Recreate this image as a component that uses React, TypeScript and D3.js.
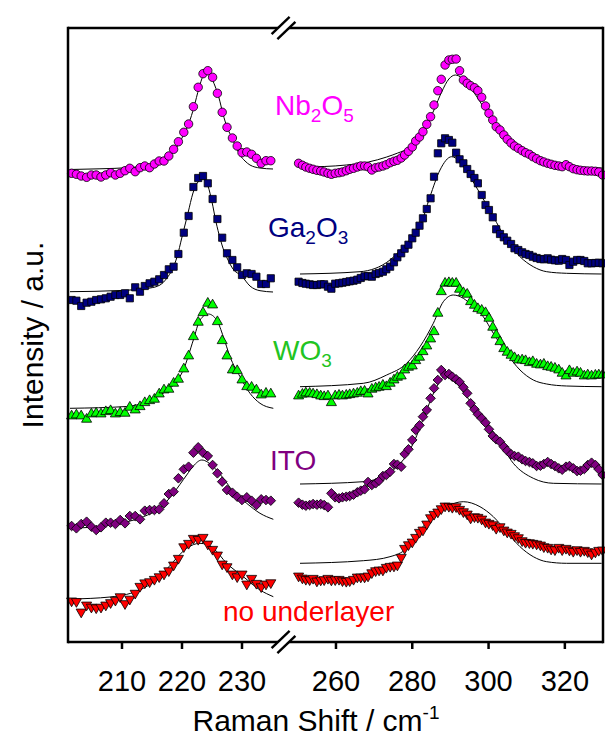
import React from "react";
import * as d3 from "d3";

// Raman shift sampling (cm^-1)
const leftShift = [201.6, 202.4, 203.2, 204.1, 204.9, 205.7, 206.5, 207.3, 208.1, 208.9, 209.7, 210.5, 211.3, 212.2, 213.0, 213.8, 214.6, 215.4, 216.2, 217.0, 217.8, 218.6, 219.4, 220.3, 221.1, 221.9, 222.7, 223.5, 224.3, 225.1, 225.9, 226.7, 227.5, 228.4, 229.2, 230.0, 230.8, 231.6, 232.4, 233.2, 234.0, 234.8];
const rightShift = [250.2, 251.2, 252.1, 253.1, 254.0, 255.0, 256.0, 256.9, 257.9, 258.8, 259.8, 260.8, 261.7, 262.7, 263.6, 264.6, 265.6, 266.5, 267.5, 268.4, 269.4, 270.4, 271.3, 272.3, 273.2, 274.2, 275.2, 276.1, 277.1, 278.0, 279.0, 280.0, 280.9, 281.9, 282.8, 283.8, 284.8, 285.7, 286.7, 287.6, 288.6, 289.6, 290.5, 291.5, 292.4, 293.4, 294.4, 295.3, 296.3, 297.2, 298.2, 299.2, 300.1, 301.1, 302.0, 303.0, 304.0, 304.9, 305.9, 306.8, 307.8, 308.8, 309.7, 310.7, 311.6, 312.6, 313.6, 314.5, 315.5, 316.4, 317.4, 318.4, 319.3, 320.3, 321.2, 322.2, 323.2, 324.1, 325.1, 326.0, 327.0, 328.0, 328.9, 329.9];

const leftTicks = [210, 220, 230];
const rightTicks = [260, 280, 300, 320];

// stacking offsets (a.u.)
const offsets = [472, 350, 233, 112, 42];

// Nb2O5
const nbLeft = [-3.3, -4.3, -6, -7.3, -5, -5, -7, -5, -2.7, -5, -3.3, -0.7, 1.7, -1.7, 2.3, 4, 2.3, 6, 9, 9, 14, 20.7, 28.3, 37.7, 46, 63.3, 82.7, 96.3, 99.3, 92.7, 76.7, 57.7, 42.7, 32, 24, 17.3, 18, 15.7, 11.7, 6.7, 9.3, 9.3];
const nbRight = [6.7, 4.7, 3, 1.7, 0.7, -0.3, -1, -2, -3.3, -4.3, -3.3, -2.7, -2, -0.7, 0.7, 1.7, 3, 4, 4, 3.3, 0, 2.3, 3, 4, 5.3, 7.3, 8.7, 9.7, 12, 15, 18.7, 23, 29, 33, 38.3, 45.7, 53.3, 65, 79.3, 90.7, 105, 110, 110.7, 111, 99.3, 90, 86.7, 84.3, 82.3, 79.3, 72.7, 64, 56.7, 50, 43.3, 40, 35, 30.7, 27, 24, 21.7, 19.3, 17.3, 15.7, 13.3, 11.3, 9.3, 8, 6.7, 5.7, 4.7, 4, 3.3, 5.3, 3.3, 1.3, 0.3, -0.3, -0.7, -1, -1, -1.3, -2, -5];
const nbFitL = [[201.33, 0.5], [206.33, 1.2], [211.33, 2.5], [214.67, 5], [217.17, 10], [218.83, 20], [220.17, 34], [221.17, 47], [222, 63], [222.83, 82], [223.5, 94], [224.17, 98], [224.83, 93], [225.5, 84], [226.17, 72], [226.83, 56], [227.5, 43], [228.17, 34], [229, 23], [229.67, 15], [230.5, 9], [231.33, 5], [233, 2], [235.17, 1]];
const nbFitR = [[250.2, 3], [256.9, 3.5], [262.7, 5], [268.5, 8], [273.3, 13], [276.2, 17], [279.1, 22], [281.9, 33], [283.9, 45], [285.8, 61], [287.7, 78], [289.6, 91], [291.3, 95], [293.0, 92], [294.9, 84], [296.8, 74], [298.8, 62], [300.7, 50], [302.6, 40], [305.0, 30], [307.9, 21], [310.8, 14], [314.6, 8], [319.4, 4], [324.2, 2.5], [330.0, 2]];

// Ga2O3
const gaLeft = [-8, -8.7, -14, -10.7, -9.7, -8, -7.3, -6.3, -4.7, -3, -3, -1.3, -6.3, 4.7, 0.3, 6, 8.7, 10.3, 12.7, 17, 22.7, 25.3, 38, 59.3, 76, 105, 114, 116, 108.7, 93, 73, 54.3, 38.7, 32, 24.7, 17, 18.7, 18, 15.3, 8, 8, 13.7];
const gaRight = [10.3, 9, 8.3, 7.7, 7, 7, 7.7, 7.7, 5.3, 3.3, 8.3, 8.7, 9.3, 10, 10.7, 11.3, 12.3, 14, 15.7, 16, 15.3, 18, 19, 20.3, 22.7, 25.3, 29.7, 34.7, 38.7, 43.3, 47.3, 53.7, 59.3, 66.3, 73.7, 83, 93.7, 115.3, 138.7, 148.7, 153.7, 152, 149.3, 139.3, 132.7, 128.7, 123, 118, 114, 108.7, 97, 87, 82, 74.7, 62.7, 58, 54.7, 51.3, 48, 43.7, 42, 39.7, 38, 37, 35.3, 34, 33, 32.7, 33.7, 32.3, 31.7, 31.3, 33, 32, 27, 30.3, 32, 32, 31, 28.7, 28.7, 29, 29.3, 28.7];
const gaFitL = [[201.33, 0.3], [209.67, 1.5], [214.67, 4], [216.33, 7], [217.5, 14], [218.33, 22], [219.17, 35], [220, 55], [221, 79], [221.83, 99], [222.67, 110], [223.5, 113], [224.33, 106], [225, 90], [225.67, 70], [226.33, 54], [227, 41], [227.67, 32], [228.5, 23], [229.95, 16], [231.33, 6], [233, 1.3], [235.17, 0]];
const gaFitR = [[250.57, 18], [266.3, 20.3], [274.16, 32], [278.53, 48.7], [282.02, 65.3], [284.64, 95.3], [287.27, 122], [290.32, 135.3], [292.51, 130.3], [295.13, 115.3], [297.75, 98.7], [301.25, 75.3], [304.74, 52], [308.24, 35.3], [311.73, 25.3], [315.23, 20.3], [320.47, 18.7], [329.64, 18]];

// WO3
const woLeft = [-7, -6, -7, -10.3, -5, -4.3, -5, -2.7, -1.7, -5, -3.7, -4.3, 1.7, -1, 2.3, 6.3, 8.3, 9.7, 15, 19, 19.7, 25.7, 29.7, 40, 53, 72.3, 86.7, 96.3, 105.7, 104, 87.3, 68.3, 53, 39, 38.3, 29, 22.3, 21.7, 19, 14, 15.7, 15];
const woRight = [13, 14.7, 16, 15.7, 15, 14.3, 13, 12.3, 13, 6.3, 13, 13.7, 13, 13.7, 14.3, 15, 15.7, 17.3, 17.7, 15, 19.7, 21, 21.7, 23.7, 22.3, 25.7, 29, 31.7, 33, 39, 41.7, 43, 48.3, 51.7, 57.3, 63, 70, 77.3, 95.7, 117.3, 125.7, 126.3, 125.7, 125.7, 119.7, 116.3, 114.7, 107.3, 103.7, 100.3, 98.7, 96.3, 90.7, 81.7, 74, 67.3, 60.3, 56.7, 53.7, 51.3, 49, 49, 48.3, 46.3, 47.3, 44.7, 44, 44.7, 42.3, 41.7, 40.7, 39, 35.7, 33, 38.3, 35.7, 37, 35.7, 33, 34, 33, 33.7, 34, 34];
const woFitL = [[201.33, 0.7], [210.78, 2.5], [213.56, 6], [215.78, 12.3], [218.56, 24], [220.22, 39], [221.89, 69], [223, 89], [224.39, 95], [225.78, 89], [226.89, 72.3], [228, 52.3], [229.67, 32.3], [231.33, 15.7], [233, 5.7], [235.22, 0.7]];
const woFitR = [[250.57, 22.3], [267.17, 25.7], [273.29, 34], [278.53, 45.7], [282.02, 62.3], [285.52, 85.7], [288.14, 107.3], [290.76, 114], [293.38, 110.7], [296.0, 102.3], [298.62, 92.3], [301.25, 75.7], [304.74, 55.7], [308.24, 39], [311.73, 29], [315.23, 25], [320.47, 23], [329.64, 22.3]];

// ITO
const itoLeft = [4, 1.7, 6, 8.3, 3.3, 0, 2.7, 7.3, 7.3, 6, 10, 6.7, 14, 14, 10.7, 19.3, 20, 20, 20.7, 26.7, 36, 38.3, 51.7, 60.7, 63.3, 77.3, 82.7, 77.3, 74, 65, 56.7, 48.3, 40, 37.3, 33.3, 30, 32.7, 29.3, 25, 30.7, 30, 29.3];
const itoRight = [27.3, 25.3, 24.3, 25, 26, 25.3, 26, 25, 22.7, 36.7, 32.7, 31.7, 32.7, 33.3, 34, 35.3, 37.7, 39.3, 40.7, 48, 45, 46.7, 49.3, 54, 55, 58.3, 66, 65.3, 63.3, 76, 80.7, 90, 100, 104.7, 113.3, 120, 131.7, 141.7, 150, 160, 155, 156, 153.3, 150.7, 148, 142.7, 136.7, 126.7, 120.7, 115.7, 111.7, 107.3, 100.7, 94, 90.7, 88.3, 83.3, 79.3, 75.7, 74, 73.3, 70.7, 69, 68, 66.7, 64, 64.3, 66, 68, 66, 64, 61.7, 60.3, 63.3, 64, 61.7, 59, 59.3, 61, 65, 67.3, 65, 60.7, 55];
const itoFitL = [[201.61, 1.7], [208, 5], [213.56, 13.3], [216.33, 21.7], [218.56, 36.7], [220.78, 55], [221.89, 64], [223.3, 70], [225.22, 63.3], [226.89, 51.7], [228.56, 38.3], [230.78, 26.7], [233, 16.7], [235.22, 10.7]];
const itoFitR = [[250.57, 46], [267.17, 48.3], [275.03, 60], [280.28, 86.7], [283.77, 120], [286.39, 143.3], [289.01, 155], [291.6, 147], [294.26, 133.3], [297.75, 116.7], [302.12, 93.3], [306.49, 66.7], [311.73, 51.7], [316.97, 46.7], [329.64, 46]];

// no underlayer
const noneLeft = [-0.9, -1.5, -12, -5, -7.1, -7.8, -7.1, -5, -2.6, -0.2, 3.3, -3.6, 0.9, 6.8, 13.7, 17.2, 18.3, 20.7, 23.3, 26, 29.3, 35, 41.7, 53.3, 56.7, 61.7, 60.7, 62.7, 56, 50.7, 45, 36, 33.3, 26, 23.3, 26, 16, 21.7, 16.7, 13.3, 16, 17.3];
const noneRight = [24, 22, 20.7, 20.3, 21.7, 19, 20, 20.3, 21.7, 20, 20.3, 20.7, 19.3, 18.7, 19.3, 20.7, 23, 23, 23, 24, 27.3, 29.3, 30, 30, 32.7, 33.7, 34, 35, 42.7, 51.7, 55.3, 58, 62.7, 67.7, 70, 76, 82.3, 85.7, 88, 91.3, 94, 93.7, 92.7, 93.3, 90.7, 88.3, 86, 82, 83.3, 82.7, 81, 78, 76.7, 75.3, 71.7, 73.3, 70, 68, 66.7, 64.3, 62.3, 59.3, 57.7, 57.3, 56.7, 56, 55, 53.3, 52.7, 51, 50.3, 52.7, 50.3, 51.7, 50, 48.7, 50.3, 48.7, 49.7, 48.3, 46, 48, 49.7, 50];
const noneFitL = [[201.62, 1], [208, 3], [213.55, 11.7], [216.33, 23.3], [218.55, 38.3], [220.78, 51.7], [223, 56.7], [225.22, 51.7], [227.45, 36.7], [230.22, 23.3], [233, 10], [235.22, 3.3]];
const noneFitR = [[250.57, 36.7], [267.17, 39.3], [274.16, 43.3], [278.53, 51.7], [282.02, 70], [285.52, 83.3], [289.01, 93.3], [293.38, 98.3], [297.75, 93.3], [301.25, 83.3], [304.74, 68.3], [308.24, 53.3], [311.73, 43.3], [315.23, 38.3], [320.47, 36.7], [329.64, 36.7]];

const FONT = "'Liberation Sans', Arial, Helvetica, sans-serif";

type Series = {
  key: string;
  offset: number;
  fill: string;
  symbol: d3.SymbolType;
  size: number;
  rotate: number;
  left: number[];
  right: number[];
  fitL: number[][];
  fitR: number[][];
};

const series: Series[] = [
  { key: "nb", offset: offsets[0], fill: "#ff00ff", symbol: d3.symbolCircle, size: 56, rotate: 0, left: nbLeft, right: nbRight, fitL: nbFitL, fitR: nbFitR },
  { key: "ga", offset: offsets[1], fill: "#000080", symbol: d3.symbolSquare, size: 52, rotate: 0, left: gaLeft, right: gaRight, fitL: gaFitL, fitR: gaFitR },
  { key: "wo", offset: offsets[2], fill: "#00ff00", symbol: d3.symbolTriangle, size: 44, rotate: 0, left: woLeft, right: woRight, fitL: woFitL, fitR: woFitR },
  { key: "ito", offset: offsets[3], fill: "#800080", symbol: d3.symbolSquare, size: 46, rotate: 45, left: itoLeft, right: itoRight, fitL: itoFitL, fitR: itoFitR },
  { key: "none", offset: offsets[4], fill: "#ff0000", symbol: d3.symbolTriangle, size: 44, rotate: 180, left: noneLeft, right: noneRight, fitL: noneFitL, fitR: noneFitR },
];

export default function App() {
  const left = 68, right = 603, top = 28, bottom = 642;
  const xL = d3.scaleLinear().domain([201, 236]).range([68, 278]);
  const xR = d3.scaleLinear().domain([248, 330]).range([290.2, 603]);
  const y = d3.scaleLinear().domain([0, 614]).range([bottom, top]);

  const breakX = 283.5;
  const breakMark = (y0: number) => {
    const hx = 9, hy = -8.7, ox = 2.9, oy = 2.5;
    const a1 = [breakX - ox - hx, y0 - oy - hy];
    const b1 = [breakX - ox + hx, y0 - oy + hy];
    const a2 = [breakX + ox - hx, y0 + oy - hy];
    const b2 = [breakX + ox + hx, y0 + oy + hy];
    return (
      <g key={"brk" + y0}>
        <polygon points={`${a1} ${b1} ${b2} ${a2}`} fill="#fff" />
        <line x1={a1[0]} y1={a1[1]} x2={b1[0]} y2={b1[1]} stroke="#000" strokeWidth={2.4} />
        <line x1={a2[0]} y1={a2[1]} x2={b2[0]} y2={b2[1]} stroke="#000" strokeWidth={2.4} />
      </g>
    );
  };

  const lineGen = (xs: d3.ScaleLinear<number, number>, off: number) =>
    d3
      .line<number[]>()
      .x((d) => xs(d[0]))
      .y((d) => y(off + d[1]))
      .curve(d3.curveMonotoneX);

  return (
    <svg width={605} height={740} style={{ position: "absolute", left: 0, top: 0, background: "#fff" }} fontFamily={FONT}>
      <rect x={0} y={0} width={605} height={740} fill="#fff" />
      {series.map((s) => {
        const sym = d3.symbol().type(s.symbol).size(s.size)() as string;
        return (
          <g key={s.key}>
            <path d={lineGen(xL, s.offset)(s.fitL) as string} fill="none" stroke="#000" strokeWidth={1} />
            <path d={lineGen(xR, s.offset)(s.fitR) as string} fill="none" stroke="#000" strokeWidth={1} />
            {s.left.map((v, i) => (
              <path key={"l" + i} d={sym} transform={`translate(${xL(leftShift[i])},${y(s.offset + v)}) rotate(${s.rotate})`} fill={s.fill} stroke="#000" strokeWidth={0.8} />
            ))}
            {s.right.map((v, i) => (
              <path key={"r" + i} d={sym} transform={`translate(${xR(rightShift[i])},${y(s.offset + v)}) rotate(${s.rotate})`} fill={s.fill} stroke="#000" strokeWidth={0.8} />
            ))}
          </g>
        );
      })}

      {/* frame */}
      <line x1={left} y1={top} x2={right} y2={top} stroke="#000" strokeWidth={2.5} />
      <line x1={left} y1={bottom} x2={right} y2={bottom} stroke="#000" strokeWidth={2.5} />
      <line x1={left} y1={top - 1.2} x2={left} y2={bottom + 1.2} stroke="#000" strokeWidth={2.5} />
      <line x1={right} y1={top - 1.2} x2={right} y2={bottom + 1.2} stroke="#000" strokeWidth={2.5} />
      {breakMark(top)}
      {breakMark(bottom)}

      {/* ticks */}
      {leftTicks.map((t) => (
        <g key={"lt" + t}>
          <line x1={xL(t)} x2={xL(t)} y1={bottom} y2={bottom + 7} stroke="#000" strokeWidth={2.5} />
          <text x={xL(t)} y={691} textAnchor="middle" fontSize={29}>{t}</text>
        </g>
      ))}
      {rightTicks.map((t) => (
        <g key={"rt" + t}>
          <line x1={xR(t)} x2={xR(t)} y1={bottom} y2={bottom + 7} stroke="#000" strokeWidth={2.5} />
          <text x={xR(t)} y={691} textAnchor="middle" fontSize={29}>{t}</text>
        </g>
      ))}

      {/* axis titles */}
      <text x={316} y={731} textAnchor="middle" fontSize={30}>
        Raman Shift / cm<tspan fontSize={19} dy={-12}>-1</tspan>
      </text>
      <text transform="translate(43,335) rotate(-90)" textAnchor="middle" fontSize={30}>Intensity / a.u.</text>

      {/* series labels */}
      <text x={275} y={115} fontSize={28} fill="#ff00ff">
        Nb<tspan fontSize={19} dy={7}>2</tspan><tspan dy={-7}>O</tspan><tspan fontSize={19} dy={7}>5</tspan>
      </text>
      <text x={268} y={237} fontSize={28} fill="#000080">
        Ga<tspan fontSize={19} dy={7}>2</tspan><tspan dy={-7}>O</tspan><tspan fontSize={19} dy={7}>3</tspan>
      </text>
      <text x={273} y={360} fontSize={28} fill="#22c422">
        WO<tspan fontSize={19} dy={7}>3</tspan>
      </text>
      <text x={270} y={470} fontSize={28} fill="#800080">ITO</text>
      <text x={223} y={621} fontSize={28} fill="#ff0000">no underlayer</text>
    </svg>
  );
}
